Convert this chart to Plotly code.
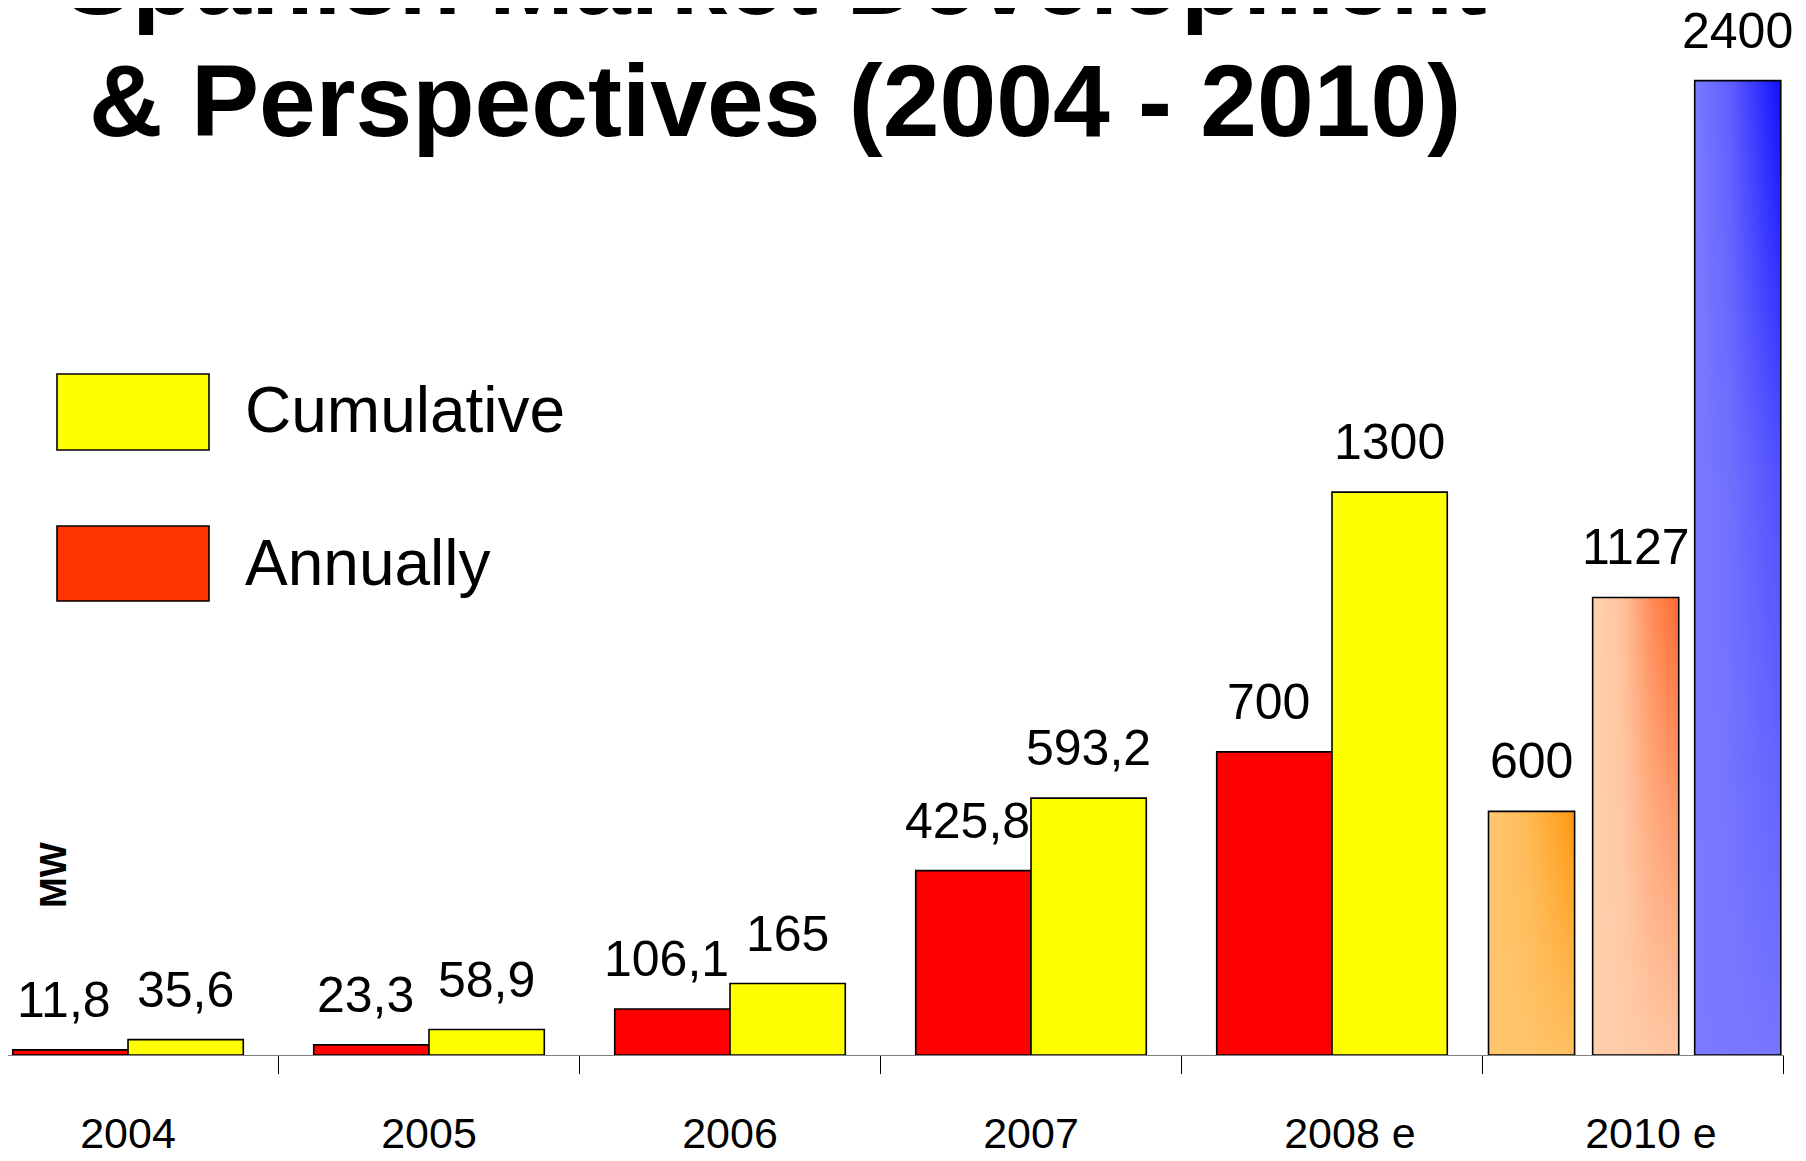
import plotly.graph_objects as go

# ---------------- data ----------------
categories = ["2004", "2005", "2006", "2007", "2008 e", "2010 e"]
years_main = ["2004", "2005", "2006", "2007", "2008 e"]
annually = [11.8, 23.3, 106.1, 425.8, 700]
cumulative = [35.6, 58.9, 165, 593.2, 1300]
est_2010_names = ["2010 e (a)", "2010 e (b)", "2010 e (c)"]
est_2010_values = [600, 1127, 2400]
legend_labels = ["Cumulative", "Annually"]
title_lines = ["Spanish Market Development", "& Perspectives (2004 - 2010)"]
y_title = "MW"

# ---------------- layout constants ----------------
W, H = 1806, 1161
PAGE_OFF = 8                       # default page margin of the html body
ML, MR, MT, MB = 0, 30, 0, 114
PW, PH = W - ML - MR, H - MT - MB
X_RANGE = [-0.3987, 5.5017]
Y1_MAX = 2418
Y2_MAX = 2579
BW = 0.383            # width of each bar in the paired groups
BW2 = 0.286           # width of the 2010 bars
OFF2 = [-0.480, -0.134, 0.205]

NARROW = "Liberation Sans Narrow, Arial Narrow, Liberation Sans, Arial, sans-serif"
SANS = "Liberation Sans, Arial, sans-serif"
RED, YELLOW, LEG_RED = "#FF0000", "#FFFF00", "#FF3300"
OUTLINE = dict(color="black", width=1.6)
LABEL_FS = 50
TICK_FS = 43

H_SCALES = [
    [[0, "#FFC870"], [0.45, "#FFBA55"], [1, "#FF9810"]],
    [[0, "#FFD2B0"], [0.35, "#FFC29C"], [0.7, "#FF8A55"], [1, "#FF6A30"]],
    [[0, "#7A7AFF"], [0.4, "#6060FF"], [1, "#1010FF"]],
]
V_SCALES = [
    [[0, "rgba(255,198,110,0.85)"], [1, "rgba(255,198,110,0)"]],
    [[0, "rgba(255,205,170,0.92)"], [0.5, "rgba(255,205,170,0.5)"], [1, "rgba(255,205,170,0)"]],
    [[0, "rgba(122,122,255,0.95)"], [0.6, "rgba(122,122,255,0.6)"], [1, "rgba(122,122,255,0)"]],
]
BASE_2010 = ["#FFB24A", "#FFB08A", "#5A5AFF"]


def px_x(px):
    return (px - PAGE_OFF - ML) / PW


def px_y(py):
    return 1 - (py - PAGE_OFF - MT) / PH


def fmt(v):
    return f"{v:g}".replace(".", ",")


def tick_label(c):
    # the year stays centred on its group, the trailing " e" hangs to the right
    return ("\u00a0" * 3 + c) if c.endswith(" e") else c


fig = go.Figure()
idx_main = [categories.index(c) for c in years_main]
fig.add_trace(go.Bar(x=idx_main, y=annually, width=BW, offset=-BW, name="Annually",
                     marker=dict(color=RED, line=OUTLINE), showlegend=False))
fig.add_trace(go.Bar(x=idx_main, y=cumulative, width=BW, offset=0, name="Cumulative",
                     marker=dict(color=YELLOW, line=OUTLINE), showlegend=False))

i5 = categories.index("2010 e")
for name, v, off, base in zip(est_2010_names, est_2010_values, OFF2, BASE_2010):
    fig.add_trace(go.Bar(x=[i5], y=[v], width=BW2, offset=off, name=name, yaxis="y2",
                         marker=dict(color=base, line=dict(width=0)), showlegend=False))

for v, off, hs, vs in zip(est_2010_values, OFF2, H_SCALES, V_SCALES):
    x0 = i5 + off
    x1 = x0 + BW2
    xs = [x0, x1, x1, x0, x0]
    ys = [0, 0, v, v, 0]
    fig.add_trace(go.Scatter(x=xs, y=ys, yaxis="y2", mode="lines", fill="toself",
                             line=dict(width=0), fillgradient=dict(type="horizontal", colorscale=hs),
                             hoverinfo="skip", showlegend=False))
    fig.add_trace(go.Scatter(x=xs, y=ys, yaxis="y2", mode="lines", fill="toself",
                             line=OUTLINE, fillgradient=dict(type="vertical", colorscale=vs),
                             hoverinfo="skip", showlegend=False))

annotations = []
LABEL_SHIFT = 20
label_font = dict(family=NARROW, size=LABEL_FS, color="black")
for i, v in zip(idx_main, annually):
    annotations.append(dict(x=i - BW / 2, y=v, xref="x", yref="y", text=fmt(v), showarrow=False,
                            yanchor="bottom", yshift=LABEL_SHIFT, xshift=-6, font=label_font))
for i, v in zip(idx_main, cumulative):
    annotations.append(dict(x=i + BW / 2, y=v, xref="x", yref="y", text=fmt(v), showarrow=False,
                            yanchor="bottom", yshift=LABEL_SHIFT, font=label_font))
for v, off in zip(est_2010_values, OFF2):
    annotations.append(dict(x=i5 + off + BW2 / 2, y=v, xref="x", yref="y2", text=fmt(v),
                            showarrow=False, yanchor="bottom", yshift=LABEL_SHIFT, font=label_font))

# title (two lines, first partly outside the canvas as in the original slide)
TITLE_FS = 102
for line, baseline in zip(title_lines, [14, 136]):
    annotations.append(dict(x=px_x(775), y=px_y(baseline - 0.3465 * TITLE_FS), xref="paper",
                            yref="paper", text=f"<b>{line}</b>", showarrow=False,
                            xanchor="center", yanchor="middle",
                            font=dict(family=SANS, size=TITLE_FS, color="black")))

# y-axis unit
annotations.append(dict(x=px_x(53), y=px_y(875), xref="paper", yref="paper", text=f"<b>{y_title}</b>",
                        textangle=-90, showarrow=False, xanchor="center", yanchor="middle",
                        font=dict(family=SANS, size=37, color="black")))

# custom legend
shapes = []
LEG_FS = 64
for label, color, (top, bot), baseline in zip(legend_labels, [YELLOW, LEG_RED],
                                               [(374, 450), (526, 601)], [432, 585]):
    shapes.append(dict(type="rect", xref="paper", yref="paper", x0=px_x(57), x1=px_x(209),
                       y0=px_y(bot), y1=px_y(top), fillcolor=color, line=OUTLINE, layer="above"))
    annotations.append(dict(x=px_x(243), y=px_y(baseline - 0.3465 * LEG_FS), xref="paper",
                            yref="paper", text=label, showarrow=False, xanchor="left",
                            yanchor="middle", font=dict(family=SANS, size=LEG_FS, color="black")))

fig.update_layout(
    width=W, height=H,
    margin=dict(l=ML, r=MR, t=MT, b=MB, pad=0),
    paper_bgcolor="white", plot_bgcolor="white",
    barmode="overlay",
    showlegend=False,
    xaxis=dict(range=X_RANGE, tickmode="array", tickvals=list(range(len(categories))),
               ticktext=[tick_label(c) for c in categories], ticks="", showline=True,
               linecolor="#808080", linewidth=1, showgrid=False, zeroline=False,
               tickfont=dict(family=NARROW, size=TICK_FS, color="black"), ticklabelstandoff=40,
               minor=dict(tickmode="array", tickvals=[i + 0.5 for i in range(len(categories))],
                          ticks="outside", ticklen=18, tickcolor="black", tickwidth=1,
                          showgrid=False)),
    yaxis=dict(range=[0, Y1_MAX], visible=False),
    yaxis2=dict(range=[0, Y2_MAX], overlaying="y", visible=False),
    annotations=annotations,
    shapes=shapes,
)

fig.write_html("out.html")
